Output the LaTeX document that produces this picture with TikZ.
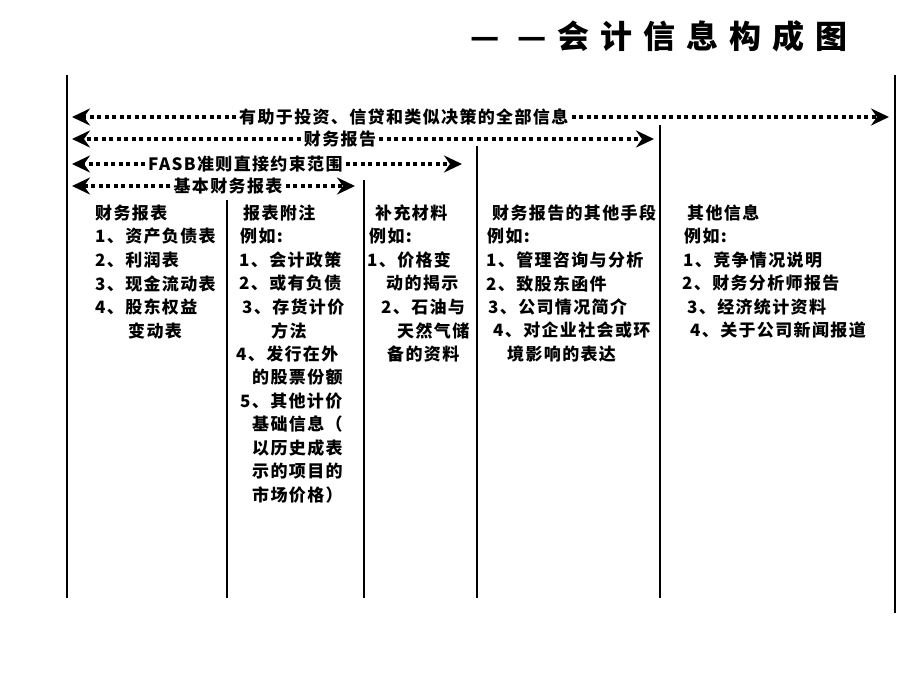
\documentclass[tikz,border=0pt]{standalone}
\usepackage{fontspec}
\setmainfont{Noto Sans CJK SC}
\newfontfamily\bodyfam[LetterSpace=8]{Noto Sans CJK SC}
\newfontfamily\titlefam[LetterSpace=34]{Noto Sans CJK SC}
\newcommand\mybody{\bodyfam\bfseries\fontsize{17}{17}\selectfont}
\newcommand\mytitle{\titlefam\bfseries\fontsize{32}{32}\selectfont}
\usetikzlibrary{arrows.meta}
\begin{document}
\begin{tikzpicture}[x=1pt,y=-1pt,
  body/.style={anchor=west, inner sep=0pt, font=\mybody},
  rowlabel/.style={inner xsep=3pt, inner ysep=0pt, font=\mybody},
  vline/.style={line width=2.8pt},
  dotarrow/.style={line width=4pt, dash pattern=on 4pt off 3.5pt,
    -{Stealth[length=18pt,width=17pt,inset=6pt]}}]
\useasboundingbox[fill=white] (0,0) rectangle (920,690);

% title
\node[anchor=west, inner sep=0pt, font=\mytitle] (title) at (470,36) {— —会计信息构成图};

% vertical dividers
\draw[vline] (67,75) -- (67,598);
\draw[vline] (227,200) -- (227,598);
\draw[vline] (364,180) -- (364,598);
\draw[vline] (477,146) -- (477,598);
\draw[vline] (660,125) -- (660,598);
\draw[vline] (895,75) -- (895,613);

% row 1
\coordinate (r1l) at (72,117);
\coordinate (r1r) at (889,117);
\node[rowlabel, anchor=west] (r1t) at (236,117) {有助于投资、信贷和类似决策的全部信息};
\draw[dotarrow] (r1t.west) -- (r1l);
\draw[dotarrow] (r1t.east) -- (r1r);

% row 2
\coordinate (r2l) at (72,139);
\coordinate (r2r) at (654,139);
\node[rowlabel] (r2t) at (340,139) {财务报告};
\draw[dotarrow] (r2t.west) -- (r2l);
\draw[dotarrow] (r2t.east) -- (r2r);

% row 3
\coordinate (r3l) at (72,164);
\coordinate (r3r) at (462,164);
\node[rowlabel, anchor=west] (r3t) at (145,164) {FASB准则直接约束范围};
\draw[dotarrow] (r3t.west) -- (r3l);
\draw[dotarrow] (r3t.east) -- (r3r);

% row 4
\coordinate (r4l) at (72,186);
\coordinate (r4r) at (355,186);
\node[rowlabel] (r4t) at (228,186) {基本财务报表};
\draw[dotarrow] (r4t.west) -- (r4l);
\draw[dotarrow] (r4t.east) -- (r4r);

% column 1
\node[body] (c1a) at (95,213) {财务报表};
\node[body] (c1b) at (95,236.5) {1、资产负债表};
\node[body] (c1c) at (95,260) {2、利润表};
\node[body] (c1d) at (95,283.5) {3、现金流动表};
\node[body] (c1e) at (95,307) {4、股东权益};
\node[body] (c1f) at (128,330.5) {变动表};

% column 2
\node[body] (c2a) at (243,213) {报表附注};
\node[body] (c2b) at (240,236.5) {例如:};
\node[body] (c2c) at (239,260) {1、会计政策};
\node[body] (c2d) at (239,283.5) {2、或有负债};
\node[body] (c2e) at (242,307) {3、存货计价};
\node[body] (c2f) at (271,330.5) {方法};
\node[body] (c2g) at (236,354) {4、发行在外};
\node[body] (c2h) at (252,377.5) {的股票份额};
\node[body] (c2i) at (240,401) {5、其他计价};
\node[body] (c2j) at (252,424.5) {基础信息（};
\node[body] (c2k) at (252,448) {以历史成表};
\node[body] (c2l) at (252,471.5) {示的项目的};
\node[body] (c2m) at (252,495) {市场价格）};

% column 3
\node[body] (c3a) at (375,213) {补充材料};
\node[body] (c3b) at (369,236.5) {例如:};
\node[body] (c3c) at (367,260) {1、价格变};
\node[body] (c3d) at (386,283.5) {动的揭示};
\node[body] (c3e) at (381,307) {2、石油与};
\node[body] (c3f) at (397,330.5) {天然气储};
\node[body] (c3g) at (387,354) {备的资料};

% column 4
\node[body] (c4a) at (492,213) {财务报告的其他手段};
\node[body] (c4b) at (487,236.5) {例如:};
\node[body] (c4c) at (486,260) {1、管理咨询与分析};
\node[body] (c4d) at (486,283.5) {2、致股东函件};
\node[body] (c4e) at (488,307) {3、公司情况简介};
\node[body] (c4f) at (493,330.5) {4、对企业社会或环};
\node[body] (c4g) at (507,354) {境影响的表达};

% column 5
\node[body] (c5a) at (687,213) {其他信息};
\node[body] (c5b) at (684,236.5) {例如:};
\node[body] (c5c) at (683,260) {1、竞争情况说明};
\node[body] (c5d) at (682,283.5) {2、财务分析师报告};
\node[body] (c5e) at (687,307) {3、经济统计资料};
\node[body] (c5f) at (690,330.5) {4、关于公司新闻报道};
\end{tikzpicture}
\end{document}
